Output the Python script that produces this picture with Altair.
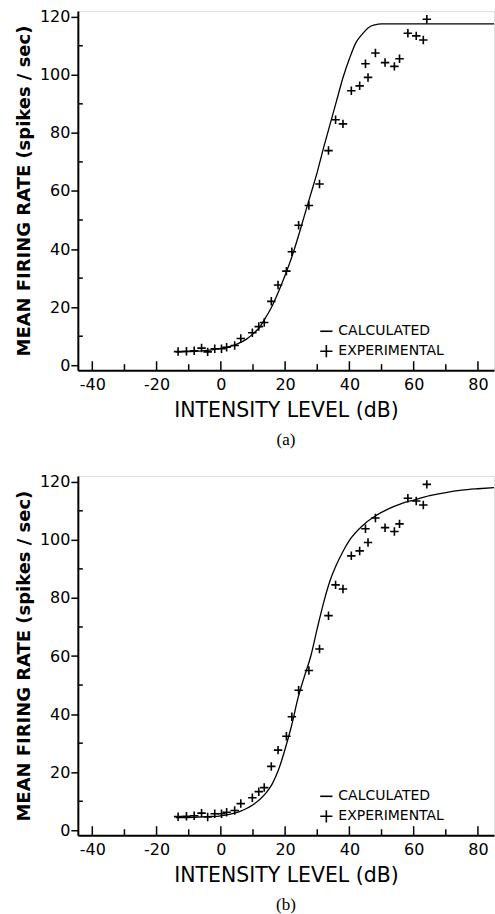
import altair as alt
import pandas as pd

# Experimental data (same recordings shown in both panels)
exp_x = [-13.3, -10.7, -8.3, -6.0, -4.1, -1.9, 0.2, 1.8, 4.3, 6.2, 9.8, 11.8, 13.5,
         15.7, 17.8, 20.4, 22.1, 24.2, 27.4, 30.7, 33.5, 35.7, 38.0, 40.6, 43.2,
         45.0, 45.8, 48.1, 51.1, 54.0, 55.6, 58.2, 60.8, 63.0, 64.1]
exp_y = [4.7, 4.8, 5.0, 5.9, 4.6, 5.7, 5.7, 6.2, 6.8, 9.2, 11.2, 13.3, 14.7,
         22.0, 27.6, 32.4, 39.1, 48.2, 55.0, 62.4, 73.9, 84.5, 83.1, 94.5, 96.2,
         103.8, 99.1, 107.5, 104.2, 102.9, 105.5, 114.3, 113.4, 112.0, 119.1]

# Calculated curve, panel (a)
calc_a_x = [-14, -10, -5, 0, 2, 5, 8, 10, 12, 14, 16, 18, 20, 22, 24, 26, 28, 30,
            32, 34, 36, 38, 40, 42, 44, 46, 48, 50, 60, 85]
calc_a_y = [4.6, 4.7, 5.0, 5.8, 6.2, 7.3, 9.0, 10.8, 13.0, 16.5, 20.5, 25.5, 31.0,
            37.0, 44.0, 51.5, 59.0, 66.5, 75.0, 83.0, 91.0, 99.0, 105.5, 111.0,
            114.0, 116.3, 117.2, 117.5, 117.5, 117.5]

# Calculated curve, panel (b)
calc_b_x = [-14, -8, -4, 0, 3, 6, 8, 10, 12, 14, 16, 18, 20, 22, 24, 26, 28, 30,
            32, 34, 36, 38, 40, 44, 48, 52, 56, 60, 65, 70, 75, 80, 85]
calc_b_y = [4.4, 4.5, 4.7, 5.0, 5.6, 6.5, 7.5, 8.8, 10.5, 12.8, 16.0, 21.0, 28.0,
            36.0, 45.5, 53.0, 60.0, 69.5, 78.5, 86.0, 91.5, 96.0, 99.8, 104.8,
            108.2, 110.6, 112.4, 113.7, 115.2, 116.3, 117.1, 117.6, 118.0]

x_major = [-40, -20, 0, 20, 40, 60, 80]
x_minor = [-30, -10, 10, 30, 50, 70]
y_major = [0, 20, 40, 60, 80, 100, 120]
y_minor = [10, 30, 50, 70, 90, 110]
series = ["CALCULATED", "EXPERIMENTAL"]

W, H = 417, 360
XD = [-44.5, 85]
YD = [-1.7, 122]
FONT = "DejaVu Sans"
DASH = "M-1,0L1,0"
CROSS = "M-1,0L1,0M0,-1L0,1"


def panel(cx, cy, caption):
    xs = alt.Scale(domain=XD, nice=False, zero=False)
    ys = alt.Scale(domain=YD, nice=False, zero=False)
    calc = pd.DataFrame({"x": cx, "y": cy})
    exp = pd.DataFrame({"x": exp_x, "y": exp_y, "s": ["EXPERIMENTAL"] * len(exp_x)})

    xaxis = alt.Axis(values=x_major, title="INTENSITY LEVEL (dB)", grid=False,
                     ticks=False, domainColor="black", domainWidth=2,
                     labelFont=FONT, labelFontSize=16, labelColor="black",
                     labelExpr="'' + datum.value",
                     labelPadding=6, titleFont=FONT, titleFontSize=20.5,
                     titleFontWeight="normal", titleColor="black", titlePadding=8)
    yaxis = alt.Axis(values=y_major, title="MEAN FIRING RATE (spikes / sec)", grid=False,
                     ticks=True, tickSize=7, tickWidth=1.5, tickColor="black",
                     domainColor="black", domainWidth=2,
                     labelFont=FONT, labelFontSize=16, labelColor="black",
                     labelPadding=1, titleFont=FONT, titleFontSize=18,
                     titleFontWeight="bold", titleColor="black", titlePadding=6)

    line = alt.Chart(calc).mark_line(color="black", strokeWidth=1.3,
                                     interpolate="monotone", clip=True).encode(
        x=alt.X("x:Q", scale=xs, axis=xaxis),
        y=alt.Y("y:Q", scale=ys, axis=yaxis),
    )
    pts = alt.Chart(exp).mark_point(filled=False, color="black", strokeWidth=1.6,
                                    size=72, opacity=1).encode(
        x=alt.X("x:Q", scale=xs),
        y=alt.Y("y:Q", scale=ys),
        shape=alt.Shape("s:N", scale=alt.Scale(domain=series, range=[DASH, CROSS]),
                        legend=alt.Legend(title=None, orient="none", legendX=242,
                                          legendY=314, labelFont=FONT,
                                          labelFontSize=14, labelColor="black",
                                          symbolSize=150, symbolStrokeWidth=1.6,
                                          symbolStrokeColor="black",
                                          symbolFillColor="transparent",
                                          labelOffset=5, rowPadding=3, padding=0)),
    )
    xmaj = alt.Chart(pd.DataFrame({"t": x_major})).mark_rule(color="black", strokeWidth=1.5).encode(
        x=alt.X("t:Q", scale=xs), y=alt.value(H), y2=alt.value(H - 9))
    xmin = alt.Chart(pd.DataFrame({"t": x_minor})).mark_rule(color="black", strokeWidth=1.5).encode(
        x=alt.X("t:Q", scale=xs), y=alt.value(H), y2=alt.value(H - 6))
    ymin = alt.Chart(pd.DataFrame({"t": y_minor})).mark_rule(color="black", strokeWidth=1.5).encode(
        y=alt.Y("t:Q", scale=ys), x=alt.value(0), x2=alt.value(5))

    return alt.layer(line, pts, xmaj, xmin, ymin).properties(
        width=W, height=H,
        title=alt.TitleParams(caption, orient="bottom", font="Liberation Serif",
                              fontSize=17, fontWeight="normal", color="black", offset=11),
    )


chart = alt.vconcat(panel(calc_a_x, calc_a_y, "(a)"), panel(calc_b_x, calc_b_y, "(b)"),
                    spacing=25).resolve_legend(shape="independent").resolve_scale(
    shape="independent").configure_view(stroke=None).configure(
    padding={"left": 14, "top": 7, "right": 0, "bottom": 0},
    background="white")

chart.save("out.html", embed_options={"renderer": "svg", "actions": False})
